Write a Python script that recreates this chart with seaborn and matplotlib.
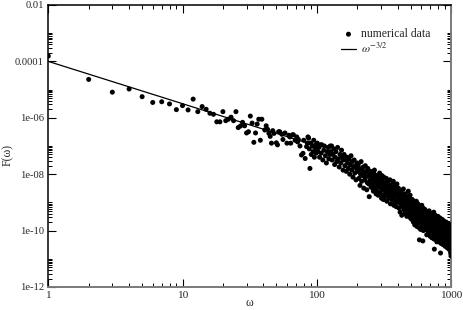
import numpy as np
import pandas as pd
import seaborn as sns
import matplotlib
matplotlib.use("Agg")
import matplotlib.pyplot as plt
from matplotlib.ticker import LogLocator, FixedLocator, FuncFormatter, NullFormatter

## Data (omega, F(omega))
omega_low = [1, 2, 3, 4, 5, 6, 7, 8, 9, 10, 11, 12, 13, 14, 15, 16, 17, 18, 19, 20,
             21, 22, 23, 24, 25, 26, 27, 28, 29, 30, 31, 32, 33, 34, 35, 36, 37, 38, 39, 41,
             42, 43, 44, 45, 46, 47, 48, 50, 51, 52, 53, 55, 56, 58, 60, 62, 63, 64, 66, 67,
             69, 71, 72, 73, 75, 77, 79, 80, 82, 84, 85, 86, 87, 89]
F_low = [1.55e-4, 2.3e-5, 8.1e-6, 1.05e-5, 5.6e-6, 3.5e-6, 3.7e-6, 3.1e-6, 1.95e-6, 2.7e-6,
         1.9e-6, 4.6e-6, 1.65e-6, 2.5e-6, 2.0e-6, 1.45e-6, 1.33e-6, 7.2e-7, 7.2e-7, 1.65e-6,
         7.9e-7, 8.9e-7, 1.05e-6, 7.9e-7, 1.65e-6, 4.5e-7, 5.1e-7, 6.9e-7, 5.2e-7, 2.9e-7,
         3.2e-7, 1.15e-6, 6.5e-7, 1.35e-7, 2.9e-7, 6.0e-7, 8.9e-7, 1.6e-7, 8.9e-7, 3.7e-7,
         5.2e-7, 3.9e-7, 2.8e-7, 2.2e-7, 1.26e-7, 3.5e-7, 2.8e-7, 1.3e-7, 1.1e-7, 3.2e-7,
         3.2e-7, 2.6e-7, 1.7e-7, 2.9e-7, 1.26e-7, 2.4e-7, 2.1e-7, 1.26e-7, 2.5e-7, 2.5e-7,
         1.6e-7, 2.1e-7, 1.4e-7, 1.7e-7, 1.0e-7, 4.8e-8, 5.5e-8, 1.6e-7, 3.6e-8, 9.5e-8,
         1.26e-7, 2.1e-7, 1.9e-7, 1.6e-8]

omega_b = [88, 90, 91, 93, 94, 95, 96, 97, 98, 99, 100,
           101, 102, 104, 105, 107, 108, 109, 111, 113, 114, 116, 118, 120, 122, 123, 125, 126,
           127, 129, 130, 132, 134, 136, 137, 139, 141, 143, 145, 147, 149, 151, 153, 155, 157, 158]
F_b = [7.9e-8, 1.26e-7, 5.0e-8, 1.0e-7, 6.3e-8, 1.6e-7, 4.0e-8, 8.9e-8, 1.1e-7, 5.6e-8, 7.1e-8,
       1.26e-7, 6.3e-8, 8.9e-8, 4.0e-8, 1.1e-7, 5.6e-8, 1.1e-7, 3.2e-8, 7.1e-8, 1.0e-7, 4.5e-8,
       2.5e-8, 6.3e-8, 8.9e-8, 3.5e-8, 5.0e-8, 1.0e-7,
       6.3e-8, 1.0e-7, 3.2e-8, 5.0e-8, 7.9e-8, 2.2e-8, 4.0e-8, 6.3e-8, 2.8e-8, 8.9e-8, 3.5e-8,
       1.8e-8, 5.0e-8, 2.5e-8, 7.1e-8, 4.0e-8, 1.4e-8, 3.2e-8]

omega_c = [160, 162, 164, 166, 168, 170, 172, 174, 176, 178, 180, 182, 184, 186, 188, 190, 192,
           194, 196, 198, 200,
           202, 204, 206, 208, 210, 212, 214, 216, 218, 220, 222, 224, 226, 228, 230, 232, 234,
           236, 238, 240, 242, 244, 246, 248, 250]
F_c = [5.0e-8, 2.0e-8, 3.2e-8, 1.26e-8, 4.0e-8, 2.5e-8, 1.6e-8, 3.5e-8, 1.0e-8, 2.2e-8, 4.5e-8,
       1.4e-8, 2.8e-8, 7.9e-9, 1.8e-8, 3.2e-8, 1.1e-8, 2.0e-8, 6.3e-9, 1.6e-8, 2.5e-8,
       1.26e-8, 2.2e-8, 7.1e-9, 1.6e-8, 4.0e-9, 1.0e-8, 2.8e-8, 5.6e-9, 1.4e-8, 8.9e-9, 1.8e-8,
       3.2e-9, 1.1e-8, 6.3e-9, 2.0e-8, 7.9e-9, 1.26e-8, 2.8e-9, 5.0e-9, 1.6e-8, 8.9e-9, 4.5e-9,
       1.6e-9, 1.0e-8, 6.3e-9]

omega_d = [252, 254, 257, 259, 262, 264, 267, 269, 272, 274, 277, 279, 282, 284, 287, 289, 292,
           294, 297, 299, 302, 304, 307, 309, 312, 314, 316,
           318, 321, 324, 327, 330, 333, 336, 339, 342, 345, 348, 351, 354, 357, 360, 363, 366,
           369, 372, 375, 378, 381, 384, 387, 390, 393, 396, 398]
F_d = [1.26e-8, 3.5e-9, 7.9e-9, 4.5e-9, 1.0e-8, 2.5e-9, 5.6e-9, 1.4e-8, 3.2e-9, 7.1e-9, 2.0e-9,
       4.0e-9, 8.9e-9, 5.0e-9, 1.8e-9, 6.3e-9, 3.5e-9, 1.1e-8, 2.2e-9, 4.5e-9, 7.1e-9, 1.4e-9,
       2.8e-9, 5.6e-9, 3.2e-9, 1.26e-9, 7.9e-9,
       3.2e-9, 1.6e-9, 5.0e-9, 2.5e-9, 7.1e-9, 1.1e-9, 3.5e-9, 2.0e-9, 4.5e-9, 1.4e-9, 2.8e-9,
       6.3e-9, 8.9e-10, 2.2e-9, 4.0e-9, 1.26e-9, 3.2e-9, 1.8e-9, 5.6e-9, 7.9e-10, 2.5e-9,
       1.0e-9, 3.5e-9, 1.6e-9, 7.1e-10, 2.0e-9, 4.5e-9, 1.1e-9]

omega_e = [400, 403, 406, 409, 412, 415, 418, 421, 424, 427, 430, 433, 436, 439, 442, 445, 448,
           451, 454, 457, 460, 463, 466, 469, 472, 475, 478, 481, 484, 487, 490, 493, 496, 499, 501,
           504, 507, 510, 513, 516, 519, 522, 525, 528, 531, 534, 537, 540, 543, 546, 549, 552,
           555, 558, 561, 564, 567, 570, 573, 576, 579, 582, 585, 588, 591, 594, 597, 600, 603,
           606, 609, 612, 615, 617, 620, 623, 626, 629]
F_e = [2.0e-9, 1.0e-9, 3.2e-9, 6.3e-10, 1.6e-9, 2.5e-9, 4.5e-10, 1.26e-9, 8.9e-10, 2.2e-9,
       3.5e-10, 1.1e-9, 7.1e-10, 1.8e-9, 3.0e-9, 5.6e-10, 1.4e-9, 8.9e-10, 4.0e-10, 2.0e-9,
       1.0e-9, 6.3e-10, 1.6e-9, 3.2e-10, 7.9e-10, 1.26e-9, 5.0e-10, 2.5e-9, 8.9e-10, 4.0e-10,
       1.1e-9, 6.3e-10, 1.8e-9, 2.8e-10, 7.9e-10,
       1.0e-9, 5.0e-10, 2.5e-10, 7.9e-10, 1.26e-9, 3.5e-10, 6.3e-10, 2.0e-10, 1.0e-9, 4.5e-10,
       8.9e-10, 1.6e-10, 5.6e-10, 3.2e-10, 7.1e-10, 2.2e-10, 1.1e-9, 4.0e-10, 1.4e-10, 6.3e-10,
       2.8e-10, 8.9e-10, 1.8e-10, 5.0e-10, 3.5e-10, 1.26e-10, 4.7e-11, 7.1e-10, 2.5e-10,
       4.5e-10, 1.1e-10, 3.2e-10, 5.6e-10, 2.0e-10, 7.9e-10, 1.4e-10, 4.0e-10, 2.8e-10,
       4.3e-11, 6.3e-10, 1.0e-10, 3.5e-10, 1.8e-10]

omega_f = [632, 636, 640, 644, 648, 652, 656, 660, 664, 668, 672, 676, 680, 684, 688, 692, 696,
           700, 704, 708, 712, 716, 720, 724, 728, 732, 736, 740, 744, 748, 752, 756, 760, 764,
           768, 772, 776, 780, 784, 788, 792,
           796, 800, 804, 808, 812, 816, 820, 824, 828, 832, 836, 840, 844, 848, 852, 856, 860,
           864, 868, 872, 876, 880, 884, 888, 892, 896, 900, 904, 908, 912, 916, 920, 924, 928,
           932, 936, 940, 944, 948, 952, 956, 960, 964, 968, 972, 976, 980, 984, 988, 992, 996,
           1000]
F_f = [4.0e-10, 2.0e-10, 5.6e-10, 1.1e-10, 3.2e-10, 1.6e-10, 2.5e-10, 7.1e-11, 4.5e-10,
       1.26e-10, 2.2e-10, 3.5e-10, 8.9e-11, 1.8e-10, 5.0e-10, 1.4e-10, 2.8e-10, 6.3e-11,
       1.0e-10, 4.0e-10, 2.0e-10, 1.26e-10, 5.6e-11, 3.2e-10, 1.6e-10, 7.9e-11, 2.5e-10,
       1.1e-10, 4.5e-10, 5.0e-11, 2.2e-11, 1.8e-10, 8.9e-11, 3.5e-10, 1.4e-10, 6.3e-11,
       2.8e-10, 1.0e-10, 4.0e-11, 2.0e-10, 7.1e-11,
       1.6e-10, 3.2e-10, 7.9e-11, 1.26e-10, 4.0e-11, 2.2e-10, 1.0e-10, 5.6e-11, 2.8e-10,
       1.4e-10, 1.6e-11, 7.1e-11, 3.5e-11, 2.0e-10, 1.1e-10, 5.0e-11, 2.5e-10, 8.9e-11,
       1.6e-10, 3.2e-11, 6.3e-11, 1.26e-10, 2.2e-10, 4.5e-11, 1.0e-10, 7.1e-11, 1.8e-10,
       2.8e-11, 1.4e-10, 5.6e-11, 8.9e-11, 2.0e-10, 4.0e-11, 1.1e-10, 6.3e-11, 2.5e-11,
       1.6e-10, 7.9e-11, 3.5e-11, 1.26e-10, 5.0e-11, 1.8e-10, 2.2e-11, 8.9e-11, 4.5e-11,
       1.4e-10, 6.3e-11, 3.2e-11, 1.0e-10, 2.0e-11, 7.1e-11, 1.26e-11]

# extra points filling the dense part of the cloud
omega_g = [256, 261, 266, 271, 276, 281, 286, 291, 296, 301, 306, 311,
           320, 326, 332, 338, 344, 350, 356, 362, 368, 374, 380, 386, 392, 397,
           402, 408, 414, 420, 426, 432, 438, 444, 450, 456, 462, 468, 474, 480, 486, 492, 498]
F_g = [6.3e-9, 3.2e-9, 1.1e-8, 5.0e-9, 8.9e-9, 2.5e-9, 4.0e-9, 7.1e-9, 5.6e-9, 3.2e-9, 8.9e-9,
       1.8e-9,
       4.0e-9, 2.2e-9, 3.2e-9, 5.6e-9, 2.5e-9, 1.6e-9, 3.5e-9, 2.0e-9, 4.5e-9, 1.4e-9, 2.8e-9,
       2.2e-9, 3.2e-9, 1.8e-9,
       1.4e-9, 2.2e-9, 1.1e-9, 1.8e-9, 7.9e-10, 1.4e-9, 1.0e-9, 2.0e-9, 1.26e-9, 7.1e-10,
       1.6e-9, 1.0e-9, 5.6e-10, 1.26e-9, 7.1e-10, 1.4e-9, 5.0e-10]

omega_h = [505, 511, 517, 523, 529, 535, 541, 547, 553, 559, 565, 571, 577, 583, 589, 595, 601,
           607, 613, 619, 625, 630,
           634, 642, 650, 658, 666, 674, 682, 690, 698, 706, 714, 722, 730, 738, 746, 754, 762,
           770, 778, 786, 794,
           798, 806, 814, 822, 830, 838, 846, 854, 862, 870, 878, 886, 894, 902, 910, 918, 926,
           934, 942, 950, 958, 966, 974, 982, 990, 998, 994, 986, 970]
F_h = [7.1e-10, 4.0e-10, 5.6e-10, 8.9e-10, 3.2e-10, 6.3e-10, 4.0e-10, 2.8e-10, 5.0e-10,
       7.9e-10, 4.5e-10, 3.2e-10, 6.3e-10, 2.2e-10, 5.0e-10, 3.5e-10, 2.5e-10, 4.5e-10,
       1.8e-10, 3.5e-10, 2.2e-10, 5.0e-10,
       2.8e-10, 1.4e-10, 2.2e-10, 3.5e-10, 1.8e-10, 1.1e-10, 2.5e-10, 1.6e-10, 3.2e-10,
       1.4e-10, 2.8e-10, 1.0e-10, 2.2e-10, 1.6e-10, 2.8e-10, 1.26e-10, 6.3e-11, 2.0e-10,
       1.1e-10, 1.6e-10, 5.6e-11,
       1.1e-10, 2.0e-10, 8.9e-11, 1.6e-10, 6.3e-11, 1.1e-10, 1.4e-10, 7.9e-11, 1.8e-10,
       1.0e-10, 4.5e-11, 1.26e-10, 5.6e-11, 8.9e-11, 1.1e-10, 4.5e-11, 7.1e-11, 1.4e-10,
       5.0e-11, 8.9e-11, 1.1e-10, 4.0e-11, 7.1e-11, 1.0e-10, 5.0e-11, 8.9e-11, 1.6e-11,
       2.5e-11, 3.2e-11]

# omega^{-3/2} reference line (end points)
line_omega = [1, 100]
line_F = [1.0e-4, 1.0e-7]

# axis ticks
x_ticks = [1, 10, 100, 1000]
y_ticks = [1e-12, 1e-10, 1e-8, 1e-6, 1e-4, 1e-2]


def gfmt(v, _):
    return f"{v:g}"


def main():
    sns.set_style("ticks")
    plt.rcParams["font.family"] = ["Liberation Serif", "DejaVu Serif"]
    plt.rcParams["mathtext.fontset"] = "stix"

    df = pd.DataFrame({
        "omega": omega_low + omega_b + omega_c + omega_d + omega_e + omega_f + omega_g + omega_h,
        "F": F_low + F_b + F_c + F_d + F_e + F_f + F_g + F_h,
    })
    df_line = pd.DataFrame({"omega": line_omega, "F": line_F})

    fig = plt.figure(figsize=(4.63, 3.10), dpi=100)
    ax = fig.add_axes([0.1043, 0.0742, 0.8697, 0.9097])

    sns.scatterplot(data=df, x="omega", y="F", ax=ax, color="black", s=13,
                    edgecolor="none", label="numerical data", zorder=3)
    sns.lineplot(data=df_line, x="omega", y="F", ax=ax, color="black", lw=0.9,
                 label=r"$\omega^{-3/2}$", zorder=2)

    ax.set_xscale("log")
    ax.set_yscale("log")
    ax.set_xlim(1, 1000)
    ax.set_ylim(1e-12, 1e-2)

    ax.xaxis.set_major_locator(FixedLocator(x_ticks))
    ax.xaxis.set_minor_locator(LogLocator(base=10, subs=np.arange(2, 10), numticks=50))
    ax.yaxis.set_major_locator(FixedLocator(y_ticks))
    ax.yaxis.set_minor_locator(LogLocator(base=100, subs=np.arange(2, 11), numticks=60))
    ax.xaxis.set_major_formatter(FuncFormatter(gfmt))
    ax.yaxis.set_major_formatter(FuncFormatter(gfmt))
    ax.xaxis.set_minor_formatter(NullFormatter())
    ax.yaxis.set_minor_formatter(NullFormatter())

    ax.tick_params(which="both", direction="in", top=True, right=True, color="black")
    ax.tick_params(which="major", length=6, width=0.8)
    ax.tick_params(which="minor", length=3, width=0.7)
    ax.tick_params(axis="x", labelsize=8.2, pad=3)
    ax.tick_params(axis="y", labelsize=7.6, pad=3)

    for side in ["left", "top"]:
        ax.spines[side].set_color("black")
        ax.spines[side].set_linewidth(1.1)
    for side in ["bottom", "right"]:
        ax.spines[side].set_color("#7a7a7a")
        ax.spines[side].set_linewidth(1.4)

    ax.set_xlabel("ω", fontsize=8.5)
    ax.set_ylabel("F(ω)", fontsize=8.5)
    ax.xaxis.set_label_coords(0.5, -0.057)
    ax.xaxis.label.set_verticalalignment("center")
    ax.yaxis.set_label_coords(-0.10, 0.468)
    ax.yaxis.label.set_verticalalignment("center")

    ax.legend(loc="upper left", bbox_to_anchor=(0.70, 0.955), frameon=False,
              fontsize=8.5, handlelength=1.3, handletextpad=0.4, labelspacing=0.15,
              markerscale=1.0)

    fig.savefig("out.png", dpi=100)


if __name__ == '__main__':
    main()
